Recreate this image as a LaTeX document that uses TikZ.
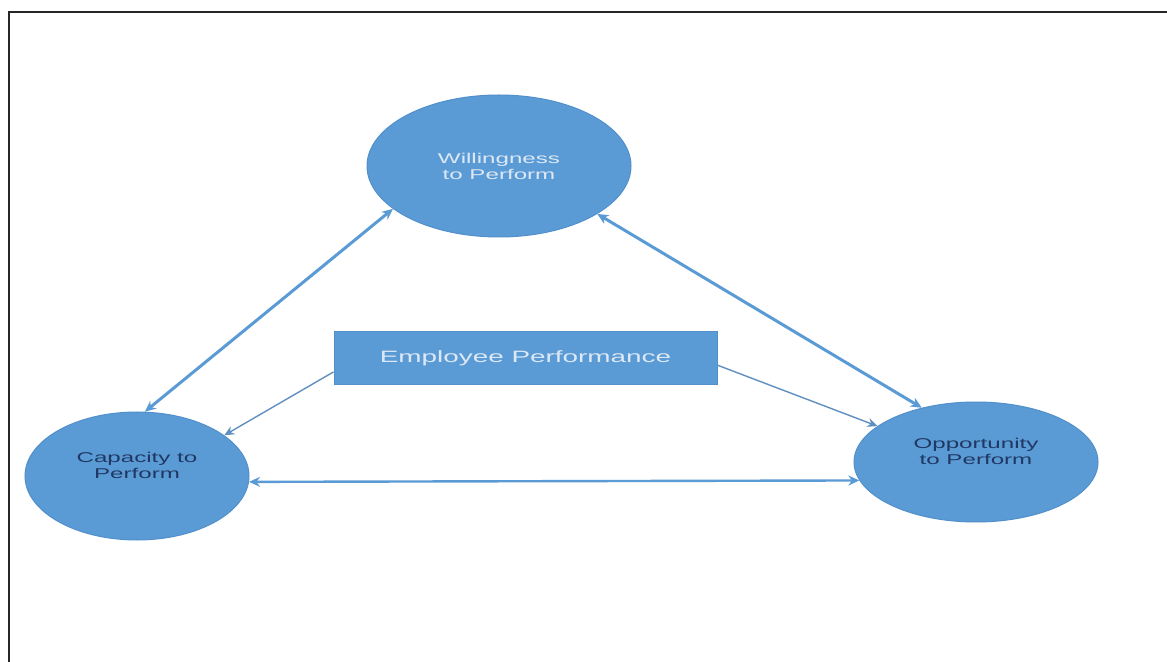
\documentclass[tikz,border=0pt]{standalone}
\usepackage{fontspec}
\setmainfont{Liberation Sans}
\newfontfamily\widesans[FakeStretch=1.7]{Liberation Sans}
\usetikzlibrary{shapes.geometric,arrows.meta}
\definecolor{nodeblue}{HTML}{5B9BD5}
\definecolor{nodeedge}{HTML}{5190CB}
\definecolor{darktext}{HTML}{1F3864}
\definecolor{lighttext}{HTML}{DCE8F5}
\definecolor{linkblue}{HTML}{5B9BD5}
\definecolor{thinlink}{HTML}{6090C0}
\begin{document}
\begin{tikzpicture}[x=0.5pt,y=-0.5pt,
  bubble/.style={ellipse,fill=nodeblue,draw=nodeedge,line width=0.5pt,align=center,inner sep=0pt,
    font=\widesans\fontsize{7.1pt}{8pt}\selectfont},
  box/.style={rectangle,fill=nodeblue,draw=nodeedge,line width=0.5pt,inner sep=0pt,
    minimum width=191.5pt,minimum height=26.5pt,text=lighttext,
    font=\widesans\fontsize{8.2pt}{9pt}\selectfont},
  biarrow/.style={{Stealth[length=5.5pt,width=5pt]}-{Stealth[length=5.5pt,width=5pt]},draw=linkblue,line width=1.5pt},
  onearrow/.style={-{Stealth[length=5pt,width=4.5pt]},draw=thinlink,line width=0.7pt}
]
\useasboundingbox (0,0) rectangle (1167,662);
\fill[white] (0,0) rectangle (1167,662);
\draw[line width=1.1pt,black!85] (9,662) -- (9,12) -- (1167,12);

\node[bubble,minimum width=132pt,minimum height=71pt,text=lighttext] (will) at (499,166) {Willingness\\to Perform};
\node[bubble,minimum width=112pt,minimum height=64pt,text=darktext] (cap) at (137,476) {Capacity to\\Perform\\[3pt]};
\node[bubble,minimum width=122pt,minimum height=60pt,text=darktext] (opp) at (976,462) {Opportunity\\to Perform\\[3pt]};
\node[box] (emp) at (525.5,358.5) {Employee Performance};

\draw[biarrow] (will.202) -- (cap.83);
\draw[biarrow] (will.334) -- (opp.135);
\draw[biarrow,line width=1.2pt] (cap.357) -- (opp.189);
\draw[onearrow] (emp.184) -- (cap.25);
\draw[onearrow] (emp.358) -- (opp.160);
\end{tikzpicture}
\end{document}
